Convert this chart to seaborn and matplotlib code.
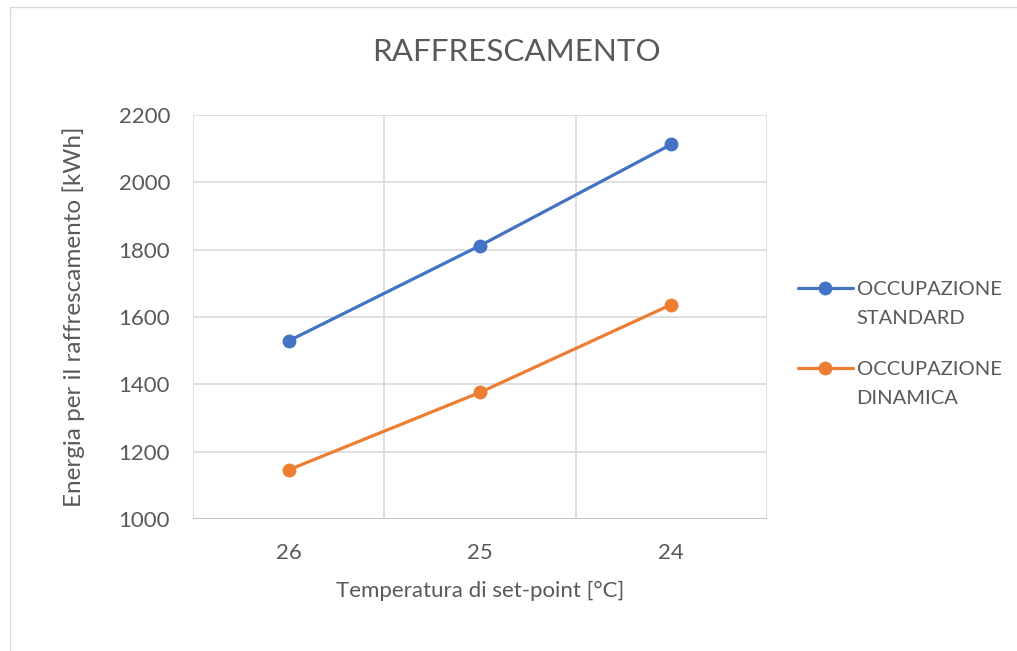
import matplotlib
matplotlib.use("Agg")
import matplotlib.pyplot as plt
from matplotlib.patches import Rectangle
from matplotlib.lines import Line2D
import seaborn as sns
import pandas as pd

# Cooling energy by set-point temperature
setpoints = ["26", "25", "24"]
standard = [1529, 1812, 2113]
dinamica = [1146, 1376, 1637]
series_names = ["OCCUPAZIONE\nSTANDARD", "OCCUPAZIONE\nDINAMICA"]
y_ticks = [1000, 1200, 1400, 1600, 1800, 2000, 2200]

df = pd.DataFrame({
    "setpoint": setpoints * 2,
    "energia": standard + dinamica,
    "serie": [series_names[0]] * 3 + [series_names[1]] * 3,
})

sns.set_theme(style="white")
plt.rcParams["font.family"] = ["Lato", "DejaVu Sans"]
text_c = "#595959"
grid_c = "#d9d9d9"
colors = ["#4472C4", "#ED7D31"]

fig = plt.figure(figsize=(10.17, 6.51), dpi=100)
fig.patches.append(Rectangle((0.010, -0.01), 1.0, 1.0 - 0.001, transform=fig.transFigure,
                             fill=False, edgecolor="#d9d9d9", linewidth=1.0))
ax = fig.add_axes([0.1898, 0.2028, 0.5644, 0.6205])

sns.lineplot(data=df, x="setpoint", y="energia", hue="serie", palette=colors,
             marker="o", markersize=10, markeredgewidth=0, linewidth=2.3,
             sort=False, legend=False, ax=ax)

ax.set_xlim(-0.5, 2.5)
ax.set_ylim(1000, 2200)
ax.set_yticks(y_ticks)
ax.set_yticklabels([str(v) for v in y_ticks])
ax.set_xticks(range(len(setpoints)))
ax.set_xticklabels(setpoints)
for xv in [-0.5, 0.5, 1.5, 2.5]:
    ax.axvline(xv, color=grid_c, linewidth=1.2, zorder=0)
for yv in y_ticks:
    ax.axhline(yv, color=grid_c, linewidth=1.2, zorder=0)
ax.axhline(1000, color="#bfbfbf", linewidth=1.2, zorder=1)
for s in ax.spines.values():
    s.set_visible(False)

ax.tick_params(axis="both", length=0, labelsize=16, labelcolor=text_c)
ax.tick_params(axis="y", pad=16.5)
ax.tick_params(axis="x", pad=17)
ax.set_xlabel("Temperatura di set-point [°C]", fontsize=16, color=text_c, labelpad=13)
ax.set_ylabel("Energia per il raffrescamento [kWh]", fontsize=17.5, color=text_c, labelpad=24)

fig.text(0.508, 0.92, "RAFFRESCAMENTO", ha="center", va="center",
         fontsize=22.6, color=text_c)

handles = [Line2D([0], [0], color=c, linewidth=2.3, marker="o", markersize=10,
                  markeredgewidth=0) for c in colors]
leg = fig.legend(handles, series_names, loc="center left", bbox_to_anchor=(0.7749, 0.496),
                 frameon=False, fontsize=14.5, handlelength=2.7, handletextpad=0.2,
                 borderpad=0, labelspacing=1.7, labelcolor=text_c)
# put each marker beside the first line of its two-line label
for t in leg.get_texts():
    t.set_linespacing(1.84)
    t.set_y(-16)

fig.savefig("out.png", dpi=100, facecolor="white")
